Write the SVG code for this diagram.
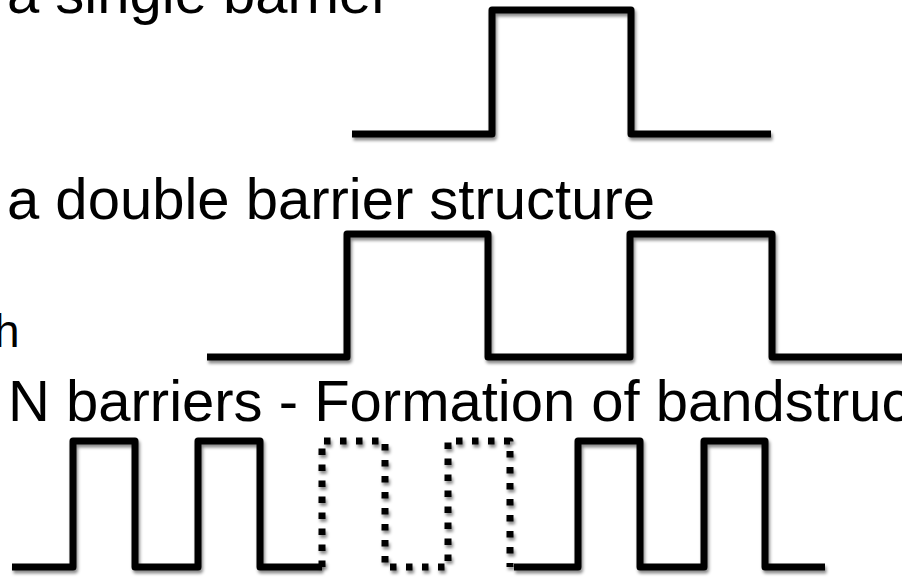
<svg xmlns="http://www.w3.org/2000/svg" width="902" height="580" viewBox="0 0 902 580">
  <defs>
    <filter id="shadow" x="-5%" y="-20%" width="110%" height="140%">
      <feDropShadow dx="1.5" dy="3" stdDeviation="1.6" flood-color="#000" flood-opacity="0.45"/>
    </filter>
    <style>
      .label { font-family: "Liberation Sans", Arial, Helvetica, sans-serif; font-size: 58px; fill: #000; }
      .profile { fill: none; stroke: #000; stroke-width: 7; stroke-linejoin: round; stroke-linecap: butt; filter: url(#shadow); }
      .dotted { stroke-dasharray: 6.5 9.5; }
    </style>
  </defs>

  <rect width="902" height="580" fill="#fff"/>

  <!-- captions -->
  <g id="captions">
    <text class="label" x="7" y="13">a single barrier</text>
    <text class="label" x="7" y="219">a double barrier structure</text>
    <text class="label" x="-6" y="347" style="font-size:46px">h</text>
    <text class="label" x="8" y="421">N barriers - Formation of bandstruc</text>
  </g>

  <!-- single barrier potential -->
  <g id="single-barrier">
    <path class="profile" d="M352,134 H492 V10 H631 V134 H771"/>
  </g>

  <!-- double barrier potential -->
  <g id="double-barrier">
    <path class="profile" d="M207,357 H347 V234 H488 V357 H630 V234 H772 V357 H905"/>
  </g>

  <!-- periodic array of N barriers -->
  <g id="n-barriers">
    <path class="profile" d="M12,567 H73 V441 H135 V567 H198 V441 H260 V567 H322"/>
    <path class="profile dotted" d="M322,567 V441 H385 V567 H448 V441 H510 V567"/>
    <path class="profile" d="M514,567 H578 V441 H640 V567 H704 V441 H765 V567 H825"/>
  </g>
</svg>
